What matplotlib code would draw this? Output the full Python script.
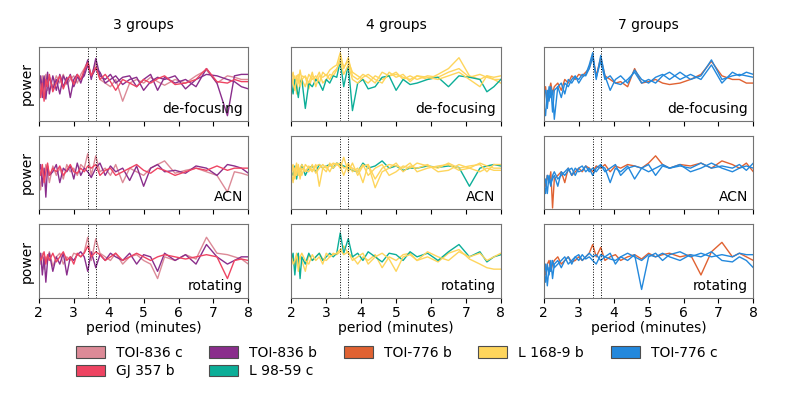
import matplotlib

matplotlib.use("Agg")
import matplotlib.pyplot as plt
from matplotlib.patches import Patch

# period grid (minutes), shared by every curve
period = [2.0, 2.05, 2.1, 2.15, 2.2, 2.25, 2.3, 2.4, 2.5, 2.6, 2.7, 2.8, 2.9, 3.0,
          3.1, 3.2, 3.3, 3.4, 3.5, 3.63, 3.75, 3.9, 4.05, 4.2, 4.4, 4.6, 4.8, 5.0,
          5.2, 5.4, 5.6, 5.9, 6.2, 6.5, 6.8, 7.1, 7.4, 7.6, 7.8, 8.0]

# --- 3 groups ---
d1_836c = [0.55, 0.35, 0.6, 0.45, 0.62, 0.4, 0.58, 0.45, 0.6, 0.5, 0.62, 0.48, 0.55, 0.6, 0.5, 0.62, 0.7, 0.8, 0.6, 0.78,
           0.55, 0.5, 0.45, 0.55, 0.25, 0.5, 0.55, 0.5, 0.58, 0.52, 0.47, 0.55, 0.5, 0.6, 0.68, 0.5, 0.6, 0.58, 0.55, 0.55]
d1_836b_1 = [0.5, 0.6, 0.3, 0.55, 0.45, 0.65, 0.35, 0.6, 0.4, 0.62, 0.45, 0.58, 0.3, 0.55, 0.62, 0.5, 0.65, 0.82, 0.55, 0.84,
             0.6, 0.55, 0.62, 0.5, 0.58, 0.6, 0.45, 0.55, 0.62, 0.4, 0.58, 0.5, 0.55, 0.45, 0.7, 0.5, 0.05, 0.6, 0.62, 0.62]
d1_836b_2 = [0.4, 0.55, 0.45, 0.6, 0.28, 0.5, 0.58, 0.42, 0.55, 0.35, 0.6, 0.5, 0.62, 0.45, 0.58, 0.55, 0.6, 0.75, 0.58, 0.7,
             0.65, 0.5, 0.55, 0.6, 0.48, 0.55, 0.58, 0.4, 0.52, 0.58, 0.55, 0.6, 0.42, 0.55, 0.62, 0.6, 0.55, 0.52, 0.45, 0.42]
d1_357b = [0.62, 0.3, 0.5, 0.25, 0.55, 0.45, 0.62, 0.38, 0.5, 0.6, 0.42, 0.55, 0.6, 0.48, 0.62, 0.55, 0.68, 0.78, 0.6, 0.72,
           0.55, 0.62, 0.52, 0.4, 0.55, 0.5, 0.45, 0.55, 0.5, 0.56, 0.6, 0.48, 0.5, 0.55, 0.7, 0.52, 0.5, 0.55, 0.52, 0.52]

a1_836c = [0.45, 0.25, 0.55, 0.4, 0.6, 0.5, 0.35, 0.58, 0.45, 0.55, 0.4, 0.6, 0.5, 0.55, 0.45, 0.6, 0.55, 0.75, 0.45, 0.72,
           0.5, 0.55, 0.45, 0.6, 0.35, 0.55, 0.5, 0.45, 0.55, 0.6, 0.65, 0.48, 0.52, 0.55, 0.5, 0.45, 0.22, 0.5, 0.48, 0.45]
a1_836b = [0.5, 0.6, 0.3, 0.55, 0.15, 0.58, 0.45, 0.5, 0.6, 0.35, 0.55, 0.5, 0.58, 0.4, 0.62, 0.45, 0.55, 0.5, 0.42, 0.55,
           0.62, 0.45, 0.58, 0.5, 0.55, 0.38, 0.58, 0.3, 0.55, 0.6, 0.5, 0.52, 0.48, 0.58, 0.55, 0.45, 0.6, 0.58, 0.55, 0.48]
a1_357b = [0.55, 0.45, 0.6, 0.35, 0.5, 0.62, 0.45, 0.55, 0.5, 0.58, 0.45, 0.52, 0.6, 0.5, 0.48, 0.55, 0.5, 0.58, 0.55, 0.6,
           0.45, 0.52, 0.55, 0.45, 0.5, 0.55, 0.6, 0.52, 0.48, 0.55, 0.52, 0.45, 0.5, 0.55, 0.52, 0.58, 0.52, 0.55, 0.55, 0.55]

r1_836c = [0.55, 0.45, 0.6, 0.38, 0.55, 0.5, 0.62, 0.42, 0.55, 0.6, 0.45, 0.55, 0.5, 0.6, 0.58, 0.55, 0.62, 0.82, 0.5, 0.8,
           0.6, 0.55, 0.5, 0.6, 0.45, 0.55, 0.58, 0.5, 0.45, 0.25, 0.55, 0.5, 0.58, 0.52, 0.82, 0.6, 0.58, 0.55, 0.52, 0.45]
r1_836b = [0.45, 0.6, 0.3, 0.55, 0.2, 0.5, 0.6, 0.35, 0.55, 0.45, 0.6, 0.3, 0.55, 0.5, 0.58, 0.62, 0.55, 0.35, 0.62, 0.4,
           0.58, 0.5, 0.6, 0.55, 0.5, 0.6, 0.45, 0.58, 0.55, 0.35, 0.6, 0.5, 0.58, 0.45, 0.72, 0.55, 0.45, 0.5, 0.55, 0.55]
r1_357b = [0.6, 0.5, 0.55, 0.62, 0.45, 0.58, 0.5, 0.6, 0.48, 0.55, 0.62, 0.5, 0.55, 0.45, 0.6, 0.55, 0.6, 0.7, 0.55, 0.62,
           0.58, 0.5, 0.55, 0.6, 0.5, 0.55, 0.6, 0.55, 0.5, 0.55, 0.58, 0.55, 0.52, 0.55, 0.58, 0.55, 0.25, 0.5, 0.52, 0.5]

# --- 4 groups ---
d2_168_1 = [0.55, 0.65, 0.45, 0.6, 0.5, 0.68, 0.55, 0.45, 0.62, 0.55, 0.6, 0.5, 0.65, 0.6, 0.68, 0.72, 0.75, 0.92, 0.7, 0.85,
            0.6, 0.55, 0.62, 0.58, 0.5, 0.65, 0.6, 0.62, 0.58, 0.55, 0.6, 0.55, 0.62, 0.7, 0.85, 0.6, 0.55, 0.6, 0.55, 0.5]
d2_168_2 = [0.45, 0.55, 0.6, 0.35, 0.55, 0.5, 0.6, 0.58, 0.42, 0.6, 0.55, 0.65, 0.5, 0.55, 0.62, 0.6, 0.68, 0.85, 0.72, 0.8,
            0.65, 0.6, 0.55, 0.5, 0.6, 0.55, 0.6, 0.65, 0.55, 0.6, 0.55, 0.6, 0.58, 0.65, 0.7, 0.58, 0.62, 0.58, 0.55, 0.55]
d2_168_3 = [0.6, 0.5, 0.4, 0.58, 0.62, 0.45, 0.55, 0.6, 0.5, 0.65, 0.45, 0.6, 0.58, 0.62, 0.55, 0.65, 0.7, 0.8, 0.62, 0.75,
            0.55, 0.5, 0.58, 0.62, 0.55, 0.5, 0.65, 0.58, 0.62, 0.52, 0.6, 0.58, 0.55, 0.6, 0.65, 0.55, 0.45, 0.6, 0.58, 0.6]
d2_9859c = [0.5, 0.35, 0.55, 0.45, 0.3, 0.5, 0.55, 0.15, 0.5, 0.45, 0.55, 0.5, 0.4, 0.55, 0.5, 0.6, 0.58, 0.8, 0.45, 0.75,
            0.12, 0.5, 0.55, 0.42, 0.45, 0.58, 0.6, 0.4, 0.55, 0.48, 0.5, 0.55, 0.58, 0.45, 0.6, 0.58, 0.55, 0.38, 0.45, 0.55]

a2_168_1 = [0.5, 0.35, 0.55, 0.45, 0.6, 0.4, 0.55, 0.5, 0.58, 0.52, 0.6, 0.3, 0.55, 0.58, 0.5, 0.6, 0.62, 0.55, 0.7, 0.5,
            0.62, 0.45, 0.58, 0.6, 0.4, 0.55, 0.6, 0.58, 0.55, 0.62, 0.5, 0.55, 0.58, 0.6, 0.52, 0.55, 0.62, 0.58, 0.55, 0.55]
a2_168_2 = [0.55, 0.6, 0.4, 0.58, 0.5, 0.55, 0.45, 0.6, 0.55, 0.5, 0.58, 0.6, 0.55, 0.5, 0.62, 0.55, 0.6, 0.58, 0.45, 0.62,
            0.5, 0.55, 0.35, 0.6, 0.28, 0.5, 0.55, 0.62, 0.5, 0.58, 0.55, 0.6, 0.5, 0.52, 0.6, 0.55, 0.5, 0.55, 0.52, 0.52]
a2_168_3 = [0.45, 0.58, 0.5, 0.62, 0.45, 0.55, 0.6, 0.52, 0.5, 0.6, 0.48, 0.55, 0.6, 0.55, 0.58, 0.62, 0.6, 0.62, 0.55, 0.58,
            0.55, 0.5, 0.6, 0.45, 0.55, 0.6, 0.45, 0.5, 0.58, 0.55, 0.62, 0.58, 0.55, 0.62, 0.55, 0.58, 0.6, 0.5, 0.6, 0.6]
a2_9859c = [0.5, 0.45, 0.58, 0.4, 0.55, 0.5, 0.6, 0.45, 0.55, 0.58, 0.5, 0.6, 0.55, 0.58, 0.6, 0.55, 0.62, 0.6, 0.58, 0.55,
            0.52, 0.5, 0.62, 0.55, 0.58, 0.65, 0.55, 0.58, 0.52, 0.55, 0.55, 0.58, 0.56, 0.58, 0.56, 0.3, 0.55, 0.58, 0.6, 0.58]

r2_168_1 = [0.5, 0.55, 0.4, 0.6, 0.45, 0.55, 0.5, 0.35, 0.58, 0.5, 0.55, 0.6, 0.52, 0.5, 0.55, 0.6, 0.58, 0.62, 0.7, 0.6,
            0.55, 0.45, 0.55, 0.5, 0.58, 0.4, 0.55, 0.5, 0.58, 0.6, 0.5, 0.55, 0.48, 0.6, 0.65, 0.52, 0.45, 0.4, 0.38, 0.38]
r2_168_2 = [0.55, 0.45, 0.5, 0.58, 0.35, 0.55, 0.6, 0.5, 0.45, 0.58, 0.5, 0.55, 0.45, 0.6, 0.55, 0.58, 0.6, 0.65, 0.58, 0.62,
            0.5, 0.55, 0.6, 0.45, 0.55, 0.6, 0.52, 0.35, 0.55, 0.58, 0.5, 0.62, 0.55, 0.5, 0.62, 0.55, 0.6, 0.5, 0.55, 0.6]
r2_9859c = [0.5, 0.6, 0.3, 0.55, 0.6, 0.25, 0.55, 0.45, 0.6, 0.5, 0.55, 0.6, 0.5, 0.55, 0.6, 0.55, 0.6, 0.88, 0.6, 0.8,
            0.55, 0.6, 0.5, 0.62, 0.55, 0.48, 0.6, 0.58, 0.5, 0.62, 0.55, 0.6, 0.5, 0.62, 0.72, 0.55, 0.62, 0.48, 0.55, 0.58]

# --- 7 groups ---
d3_776b = [0.3, 0.45, 0.2, 0.4, 0.5, 0.35, 0.45, 0.5, 0.4, 0.55, 0.5, 0.6, 0.55, 0.62, 0.6, 0.65, 0.7, 0.88, 0.6, 0.85,
           0.6, 0.55, 0.5, 0.52, 0.45, 0.7, 0.5, 0.52, 0.55, 0.5, 0.48, 0.5, 0.55, 0.62, 0.8, 0.6, 0.55, 0.55, 0.5, 0.5]
d3_776c_1 = [0.2, 0.05, 0.4, 0.25, 0.45, 0.1, 0.4, 0.45, 0.3, 0.5, 0.45, 0.55, 0.6, 0.5, 0.58, 0.62, 0.75, 0.92, 0.55, 0.88,
             0.6, 0.4, 0.55, 0.6, 0.5, 0.68, 0.55, 0.5, 0.58, 0.62, 0.55, 0.65, 0.55, 0.6, 0.82, 0.55, 0.6, 0.62, 0.6, 0.58]
d3_776c_2 = [0.35, 0.4, 0.15, 0.45, 0.3, 0.4, 0.0, 0.45, 0.5, 0.35, 0.55, 0.5, 0.58, 0.55, 0.62, 0.6, 0.7, 0.85, 0.58, 0.8,
             0.55, 0.6, 0.5, 0.48, 0.55, 0.65, 0.5, 0.55, 0.5, 0.6, 0.65, 0.55, 0.62, 0.55, 0.75, 0.5, 0.65, 0.6, 0.65, 0.62]

a3_776b = [0.4, 0.3, 0.45, 0.35, 0.5, 0.0, 0.4, 0.45, 0.5, 0.35, 0.55, 0.45, 0.5, 0.55, 0.5, 0.58, 0.55, 0.5, 0.58, 0.55,
           0.6, 0.5, 0.58, 0.55, 0.6, 0.58, 0.55, 0.62, 0.72, 0.6, 0.55, 0.6, 0.58, 0.62, 0.55, 0.65, 0.6, 0.55, 0.62, 0.5]
a3_776c_1 = [0.3, 0.4, 0.2, 0.45, 0.35, 0.4, 0.45, 0.3, 0.5, 0.45, 0.52, 0.55, 0.45, 0.55, 0.58, 0.5, 0.55, 0.45, 0.55, 0.6,
             0.5, 0.55, 0.6, 0.45, 0.55, 0.58, 0.55, 0.5, 0.55, 0.6, 0.55, 0.58, 0.55, 0.62, 0.55, 0.58, 0.55, 0.6, 0.52, 0.62]
a3_776c_2 = [0.35, 0.2, 0.45, 0.4, 0.3, 0.45, 0.5, 0.4, 0.45, 0.5, 0.55, 0.45, 0.55, 0.5, 0.52, 0.58, 0.5, 0.55, 0.5, 0.58,
             0.55, 0.35, 0.55, 0.5, 0.58, 0.4, 0.55, 0.6, 0.45, 0.58, 0.55, 0.6, 0.5, 0.55, 0.62, 0.55, 0.5, 0.55, 0.58, 0.55]

r3_776b = [0.4, 0.3, 0.45, 0.5, 0.35, 0.45, 0.5, 0.55, 0.45, 0.5, 0.55, 0.48, 0.5, 0.55, 0.5, 0.55, 0.6, 0.72, 0.55, 0.68,
           0.5, 0.55, 0.58, 0.5, 0.55, 0.58, 0.52, 0.6, 0.55, 0.58, 0.6, 0.55, 0.58, 0.3, 0.62, 0.75, 0.55, 0.6, 0.55, 0.5]
r3_776c_1 = [0.3, 0.45, 0.15, 0.4, 0.35, 0.5, 0.4, 0.45, 0.5, 0.55, 0.45, 0.5, 0.55, 0.58, 0.5, 0.55, 0.6, 0.55, 0.58, 0.5,
             0.55, 0.6, 0.45, 0.55, 0.5, 0.58, 0.1, 0.55, 0.6, 0.5, 0.58, 0.62, 0.55, 0.6, 0.55, 0.58, 0.55, 0.6, 0.58, 0.58]
r3_776c_2 = [0.35, 0.2, 0.45, 0.3, 0.5, 0.25, 0.45, 0.5, 0.4, 0.5, 0.55, 0.45, 0.55, 0.5, 0.58, 0.52, 0.55, 0.5, 0.45, 0.58,
             0.55, 0.52, 0.5, 0.55, 0.6, 0.55, 0.5, 0.58, 0.55, 0.6, 0.55, 0.5, 0.58, 0.55, 0.62, 0.5, 0.48, 0.55, 0.5, 0.4]

group_titles = ["3 groups", "4 groups", "7 groups"]
row_labels = ["de-focusing", "ACN", "rotating"]
peak_periods = [3.4, 3.63]

planets = ["TOI-836 c", "GJ 357 b", "TOI-836 b", "L 98-59 c", "TOI-776 b", "L 168-9 b", "TOI-776 c"]
COLORS = {
    "TOI-836 c": "#dc8a97",
    "GJ 357 b": "#ee4462",
    "TOI-836 b": "#8a2e8c",
    "L 98-59 c": "#0cae98",
    "TOI-776 b": "#e06232",
    "L 168-9 b": "#fed55c",
    "TOI-776 c": "#2388dc",
}

# panels[row][col] -> list of (planet, curve)
panels = [
    [[("TOI-836 c", d1_836c), ("TOI-836 b", d1_836b_1), ("TOI-836 b", d1_836b_2), ("GJ 357 b", d1_357b)],
     [("L 168-9 b", d2_168_1), ("L 168-9 b", d2_168_2), ("L 98-59 c", d2_9859c), ("L 168-9 b", d2_168_3)],
     [("TOI-776 b", d3_776b), ("TOI-776 c", d3_776c_1), ("TOI-776 c", d3_776c_2)]],
    [[("TOI-836 c", a1_836c), ("TOI-836 b", a1_836b), ("GJ 357 b", a1_357b)],
     [("L 98-59 c", a2_9859c), ("L 168-9 b", a2_168_1), ("L 168-9 b", a2_168_2), ("L 168-9 b", a2_168_3)],
     [("TOI-776 b", a3_776b), ("TOI-776 c", a3_776c_1), ("TOI-776 c", a3_776c_2)]],
    [[("TOI-836 c", r1_836c), ("TOI-836 b", r1_836b), ("GJ 357 b", r1_357b)],
     [("L 168-9 b", r2_168_1), ("L 98-59 c", r2_9859c), ("L 168-9 b", r2_168_2)],
     [("TOI-776 b", r3_776b), ("TOI-776 c", r3_776c_1), ("TOI-776 c", r3_776c_2)]],
]

fig, axes = plt.subplots(3, 3, figsize=(7.93, 3.97), dpi=100, sharex=True)
fig.subplots_adjust(left=0.049, right=0.95, top=0.882, bottom=0.249, wspace=0.205, hspace=0.2)

for r in range(3):
    for c in range(3):
        ax = axes[r, c]
        for name, curve in panels[r][c]:
            assert len(curve) == len(period), (r, c, name, len(curve))
            ax.plot(period, curve, color=COLORS[name], lw=1.0)
        for p in peak_periods:
            ax.axvline(p, color="k", ls=":", lw=0.7)
        ax.set_xlim(2, 8)
        ax.set_ylim(-0.02, 1.0)
        ax.set_yticks([])
        ax.set_xticks(range(2, 9))
        for s in ax.spines.values():
            s.set_color("0.45")
        ax.text(0.975, 0.07, row_labels[r], transform=ax.transAxes,
                ha="right", va="bottom", fontsize=10)
        if c == 0:
            ax.set_ylabel("power", fontsize=10)
        if r == 0:
            ax.set_title(group_titles[c], fontsize=10, pad=13)
        if r == 2:
            ax.set_xlabel("period (minutes)", fontsize=10, labelpad=1)
            ax.tick_params(axis="x", labelsize=10, pad=2)

handles = [Patch(facecolor=COLORS[n], edgecolor="0.3", lw=0.8, label=n) for n in planets]
fig.legend(handles=handles, loc="center", bbox_to_anchor=(0.5, 0.088), ncol=5,
           frameon=False, fontsize=10, handlelength=2.1, handleheight=0.9,
           columnspacing=1.9, labelspacing=0.3)

fig.savefig("out.png", dpi=100)
